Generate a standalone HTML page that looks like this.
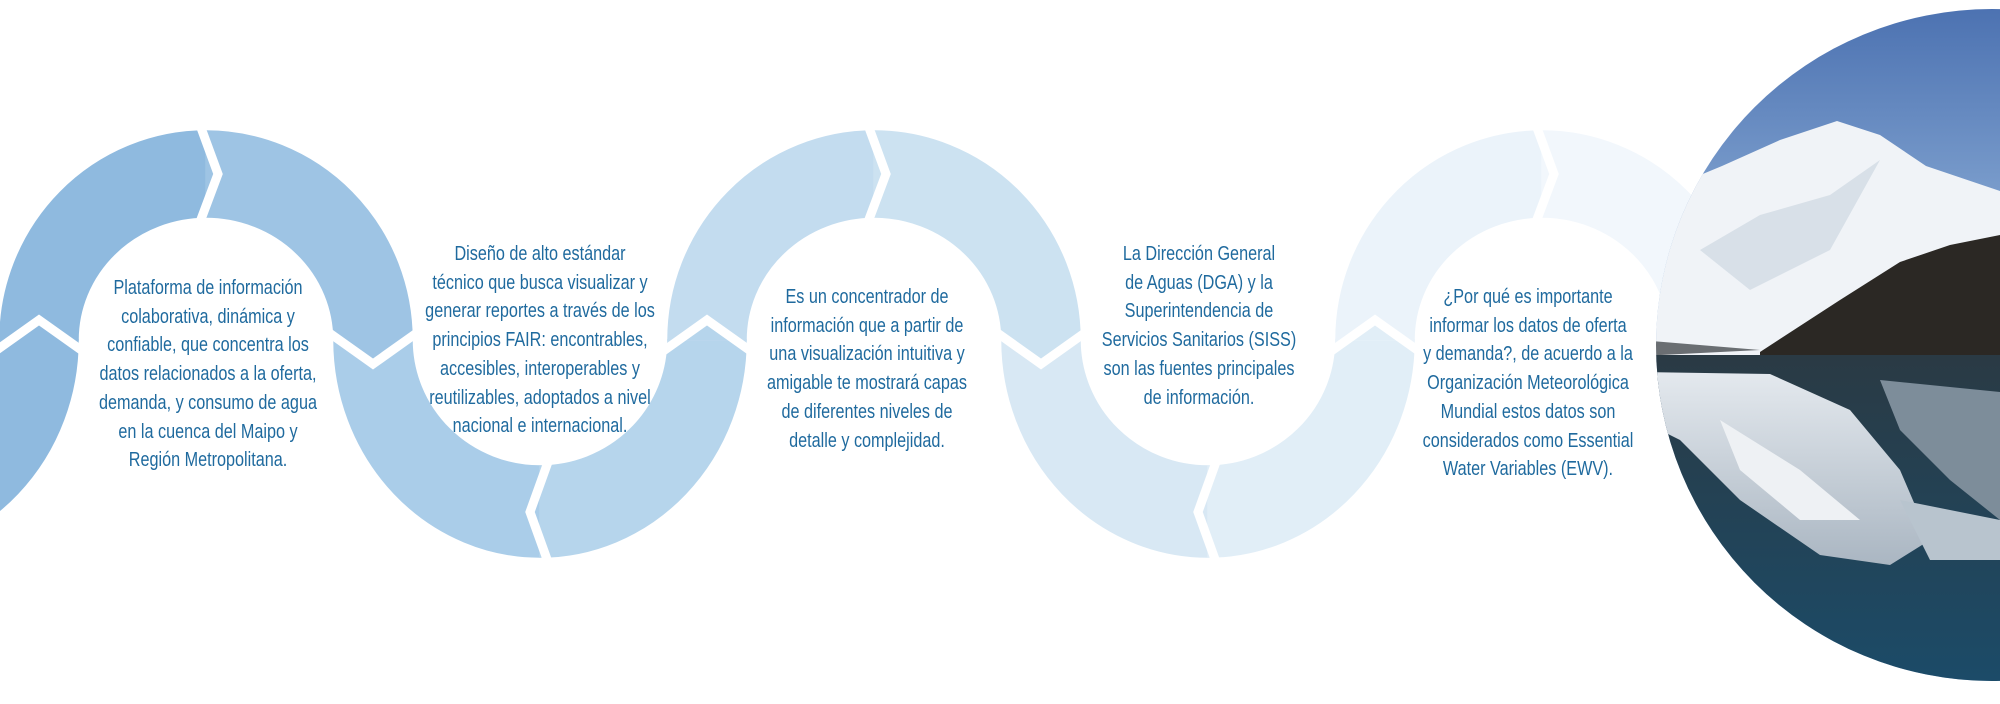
<!DOCTYPE html>
<html><head><meta charset="utf-8"><style>
html,body{margin:0;padding:0;background:#fff;}
#w{position:relative;width:2000px;height:704px;overflow:hidden;background:#fff;}
svg{position:absolute;left:0;top:0;}
.t{position:absolute;width:400px;text-align:center;color:#1f6a9e;font-family:"Liberation Sans Narrow","Liberation Sans",sans-serif;font-size:20px;line-height:28.7px;white-space:nowrap;transform:scaleX(0.81);transform-origin:50% 0;}
</style></head><body><div id="w">
<svg width="2000" height="704" viewBox="0 0 2000 704">
<defs>
<clipPath id="cc"><circle cx="1992" cy="345" r="336"/></clipPath>
<linearGradient id="sky" x1="0" y1="0" x2="0" y2="1"><stop offset="0" stop-color="#4a70b0"/><stop offset="0.4" stop-color="#8fb0d8"/></linearGradient>
<linearGradient id="wat" x1="0" y1="0" x2="0" y2="1"><stop offset="0" stop-color="#2a3a44"/><stop offset="1" stop-color="#1a4d6c"/></linearGradient>
<linearGradient id="refl" x1="0" y1="0" x2="0" y2="1"><stop offset="0" stop-color="#e4e9ee"/><stop offset="1" stop-color="#aab6c2"/></linearGradient>
</defs>
<g id="loops"></g>
<g clip-path="url(#cc)">
<rect x="1600" y="0" width="400" height="704" fill="url(#sky)"/>
<polygon points="1640,200 1722,166 1780,140 1837,121 1880,135 1926,166 2000,191 2000,360 1640,360" fill="#f0f3f7"/>
<polygon points="1700,250 1760,215 1830,195 1880,160 1830,250 1750,290" fill="#d8e0e8"/>
<polygon points="1760,352 1840,300 1900,262 1950,245 2000,235 2000,360 1760,360" fill="#2b2824"/>
<polygon points="1640,340 1760,350 1640,356" fill="#6a6e72"/>
<rect x="1600" y="355" width="400" height="360" fill="url(#wat)"/>
<polygon points="1640,372 1770,374 1850,410 1900,470 1930,540 1890,565 1820,555 1740,500 1680,440 1640,420" fill="url(#refl)"/>
<polygon points="1880,380 2000,392 2000,520 1950,480 1900,430" fill="#7d8d9a"/>
<polygon points="1900,500 2000,520 2000,560 1930,560" fill="#b8c4ce"/>
<polygon points="1720,420 1800,470 1860,520 1800,520 1740,470" fill="#eef1f4"/>
</g>
</svg>
<div class="t" style="left:8px;top:274px">Plataforma de información<br>colaborativa, dinámica y<br>confiable, que concentra los<br>datos relacionados a la oferta,<br>demanda, y consumo de agua<br>en la cuenca del Maipo y<br>Región Metropolitana.</div>
<div class="t" style="left:340px;top:240px">Diseño de alto estándar<br>técnico que busca visualizar y<br>generar reportes a través de los<br>principios FAIR: encontrables,<br>accesibles, interoperables y<br>reutilizables, adoptados a nivel<br>nacional e internacional.</div>
<div class="t" style="left:667px;top:283px">Es un concentrador de<br>información que a partir de<br>una visualización intuitiva y<br>amigable te mostrará capas<br>de diferentes niveles de<br>detalle y complejidad.</div>
<div class="t" style="left:999px;top:240px">La Dirección General<br>de Aguas (DGA) y la<br>Superintendencia de<br>Servicios Sanitarios (SISS)<br>son las fuentes principales<br>de información.</div>
<div class="t" style="left:1328px;top:283px">¿Por qué es importante<br>informar los datos de oferta<br>y demanda?, de acuerdo a la<br>Organización Meteorológica<br>Mundial estos datos son<br>considerados como Essential<br>Water Variables (EWV).</div>
<script>
(function(){
var g=document.getElementById('loops'),s='';
var C=340,P=334;
var cols=['#8fbadf','#8fbadf','#9ec4e4','#aacde9','#b6d5ec','#c3dcef','#cce2f1','#d8e8f4','#e1eef7','#ebf3fa','#f2f7fc'];
function p(d,c){s+='<path d="'+d+'" fill="'+c+'" stroke="'+c+'" stroke-width="1.5"/>';}
function q(pts,c){s+='<polygon points="'+pts+'" fill="'+c+'" stroke="'+c+'" stroke-width="1"/>';}
function l(pts){s+='<polyline points="'+pts+'" fill="none" stroke="#fff" stroke-width="9" stroke-linejoin="miter"/>';}
for(var i=0;i<6;i++){
 var cx=-128+i*P, up=(i%2==1);
 if(up){
  p('M'+(cx-206)+' '+C+' A206 209 0 0 1 '+cx+' 131 L'+cx+' 217 A128 123 0 0 0 '+(cx-128)+' '+C+' Z',cols[2*i-1]);
  p('M'+cx+' 131 A206 209 0 0 1 '+(cx+206)+' '+C+' L'+(cx+128)+' '+C+' A128 123 0 0 0 '+cx+' 217 Z',cols[2*i]);
 } else {
  if(i>0)p('M'+(cx-206)+' '+C+' A206 217 0 0 0 '+cx+' 557 L'+cx+' 466 A128 126 0 0 1 '+(cx-128)+' '+C+' Z',cols[2*i-1]);
  p('M'+cx+' 557 A206 217 0 0 0 '+(cx+206)+' '+C+' L'+(cx+128)+' '+C+' A128 126 0 0 1 '+cx+' 466 Z',cols[Math.max(2*i,0)]);
 }
}
// junction fills so colour changes at chevrons
for(var i=0;i<6;i++){
 var cx=-128+i*P, up=(i%2==1);
 if(up){
  var lowc=cols[Math.max(2*i-2,0)], upl=cols[2*i-1];
  q((cx-192)+',340 '+(cx-167)+',321 '+(cx-142)+',340',lowc);
  q((cx-206)+',339 '+(cx-206)+',351 '+(cx-191)+',339',upl);
  q((cx-143)+',339 '+(cx-128)+',351 '+(cx-128)+',339',upl);
  q((cx+133)+',339 '+(cx+167)+',364 '+(cx+201)+',339',cols[2*i]);
 }
}
for(var i=0;i<6;i++){
 var cx=-128+i*P, up=(i%2==1);
 if(up){
  l((cx-6)+',125 '+(cx+12)+',174 '+(cx-6)+',222');
  l((cx-212)+',352 '+(cx-167)+',320 '+(cx-122)+',352');
  l((cx+122)+',332 '+(cx+167)+',364 '+(cx+212)+',332');
 } else if(i>0){
  l((cx+8)+',562 '+(cx-10)+',512 '+(cx+8)+',462');
 }
}
g.innerHTML=s;
})();
</script>
</div></body></html>
